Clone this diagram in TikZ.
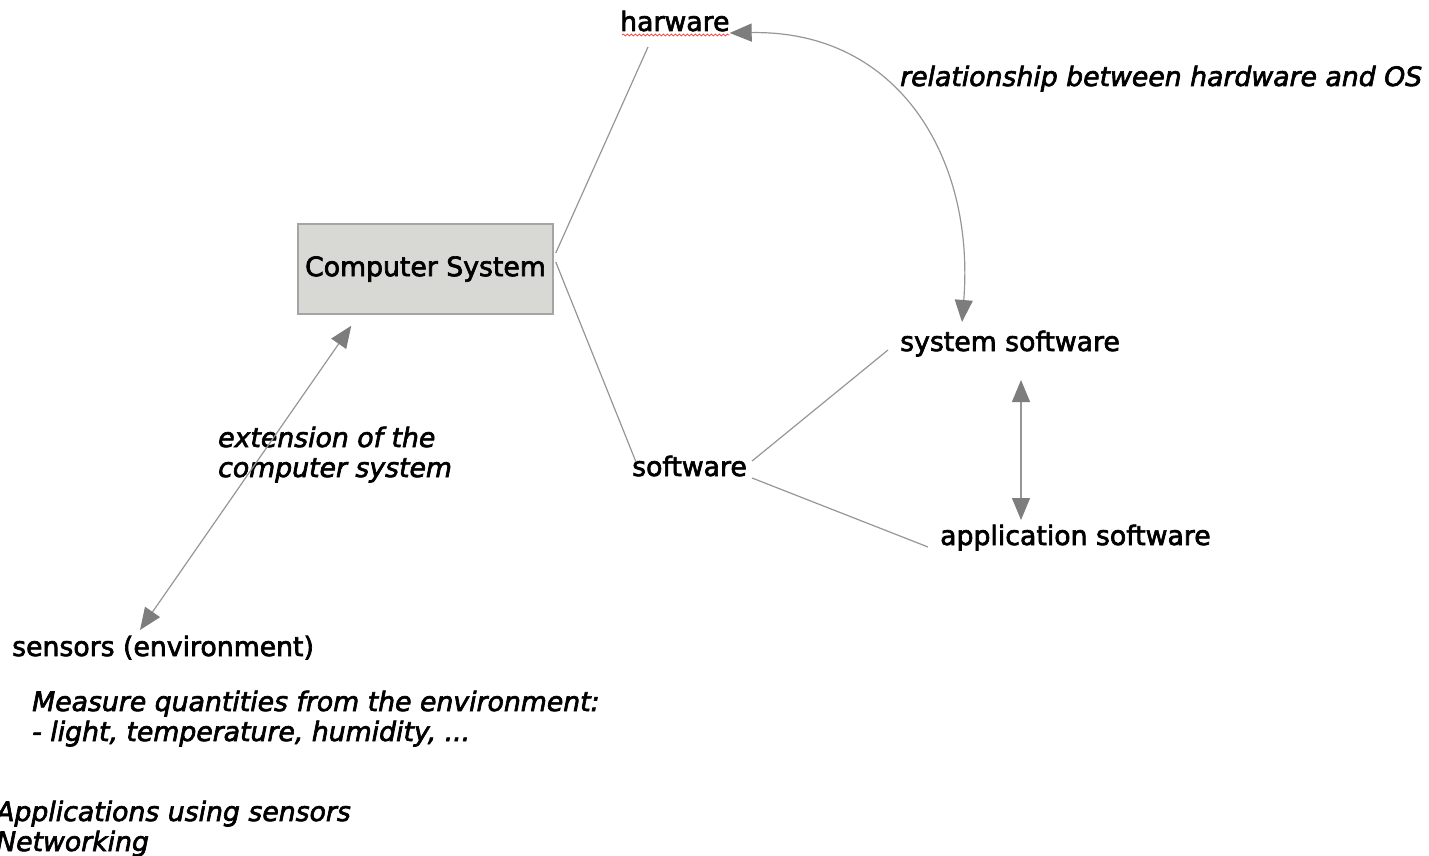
\documentclass[tikz,border=0pt]{standalone}
\usepackage{fontspec}
\setmainfont{DejaVu Sans}[BoldFont={DejaVu Sans}, BoldFeatures={FakeBold=2.5},
  BoldItalicFont={DejaVu Sans Oblique}, BoldItalicFeatures={FakeBold=2.5}]
\usepackage{tikz}
\usetikzlibrary{arrows.meta,calc,decorations.pathmorphing}
\definecolor{boxfill}{RGB}{216,217,212}
\definecolor{boxline}{RGB}{165,165,165}
\definecolor{linkgray}{RGB}{150,150,150}
\definecolor{tipgray}{RGB}{125,125,125}

\begin{document}
\begin{tikzpicture}[x=1pt, y=-1pt,
      txt/.style={inner sep=0pt, anchor=base west, font=\fontsize{26.7}{30}\selectfont\bfseries},
      note/.style={txt, align=left, font=\fontsize{26.7}{30}\selectfont\bfseries\itshape},
      box/.style={draw=boxline, fill=boxfill, line width=1.5pt, minimum width=255pt, minimum height=90pt, font=\fontsize{26.7}{30}\selectfont\bfseries},
      link/.style={draw=linkgray, line width=1.2pt},
      arr/.style={link, {Triangle[length=22pt, width=18pt, color=tipgray]}-{Triangle[length=22pt, width=18pt, color=tipgray]}}]
    \useasboundingbox (0,0) rectangle (1429,856);
    \node[box] (cs) at (425.5,269) {Computer System};
    \node[txt] (hw) at (620,31) {harware};
    \node[txt] (sysw) at (900,351) {system software};
    \node[txt] (sw) at (632,476) {software};
    \node[txt] (appsw) at (940,545) {application software};
    \node[txt] (sens) at (12,656) {sensors (environment)};
    \node[note] (rel) at (900,86) {relationship between hardware and OS};
    \node[note] (ext) at (218,477) {extension of the\\computer system};
    \node[note] (meas) at (32,741) {Measure quantities from the environment:\\- light, temperature, humidity, ...};
    \node[note] (apps) at (-4,851) {Applications using sensors\\Networking};
    % spell-check mark under the hardware label
    \draw[red!80, line width=0.7pt, decorate, decoration={snake, amplitude=1pt, segment length=4pt}]
      ($(hw.base west)+(2,4)$) -- ($(hw.base east)+(0,4)$);
    % tree lines
    \draw[link] ($(cs.east)+(2,-16)$) -- ($(hw.base west)+(28,16)$);
    \draw[link] ($(cs.east)+(2,-7)$) -- ($(sw.base west)+(4,-14)$);
    \draw[link] ($(sw.base east)+(5,-15)$) -- ($(sysw.base west)+(-12,-1)$);
    \draw[link] ($(sw.base east)+(5,2)$) -- ($(appsw.base west)+(-12,2)$);
    % arrows
    \draw[arr] ($(hw.base east)+(0,2)$) .. controls (900,30) and (975,160) .. ($(sysw.base west)+(62,-29)$);
    \draw[arr] ($(cs.south west)+(54,11)$) -- ($(sens.base west)+(128,-26)$);
    \draw[arr] ($(sysw.base west)+(121,29)$) -- ($(appsw.base west)+(81,-25)$);
  \end{tikzpicture}
\end{document}
